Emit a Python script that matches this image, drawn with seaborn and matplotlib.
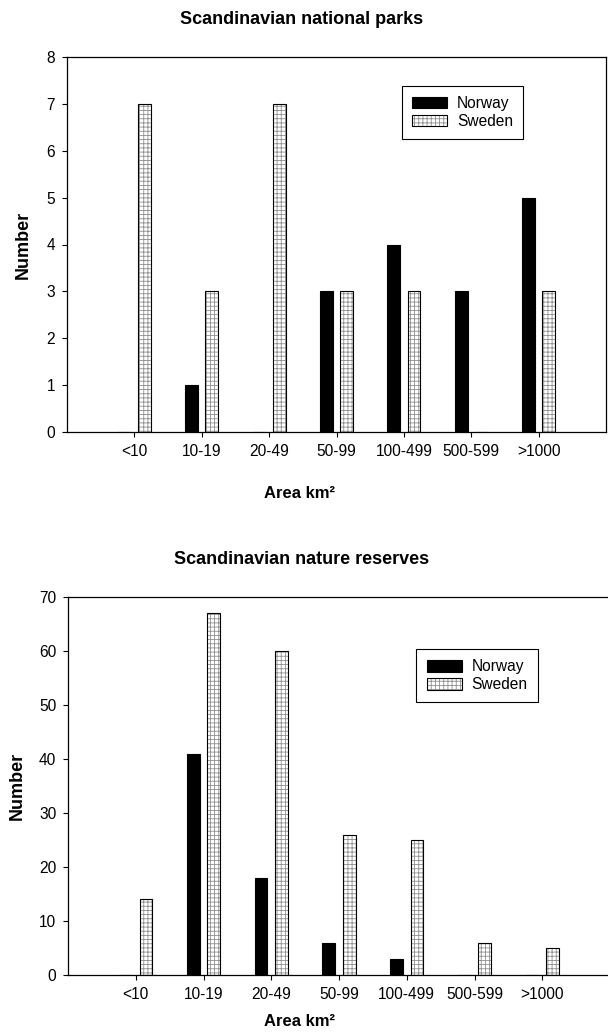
import matplotlib
matplotlib.use("Agg")
import matplotlib.pyplot as plt
import seaborn as sns
import pandas as pd
from matplotlib.colors import to_rgba

categories = ["<10", "10-19", "20-49", "50-99", "100-499", "500-599", ">1000"]
countries = ["Norway", "Sweden"]
parks_norway = [0, 1, 0, 3, 4, 3, 5]
parks_sweden = [7, 3, 7, 3, 3, 0, 3]
reserves_norway = [0, 41, 18, 6, 3, 0, 0]
reserves_sweden = [14, 67, 60, 26, 25, 6, 5]
parks_yticks = list(range(0, 9))
reserves_yticks = list(range(0, 71, 10))

sns.set_style("ticks")
plt.rcParams["font.family"] = ["Liberation Sans", "DejaVu Sans"]
plt.rcParams["text.color"] = "black"
plt.rcParams["axes.labelcolor"] = "black"
plt.rcParams["hatch.linewidth"] = 0.6

def long_df(norway, sweden):
    return pd.DataFrame({
        "Area": categories * 2,
        "Number": list(norway) + list(sweden),
        "Country": [countries[0]] * len(categories) + [countries[1]] * len(categories),
    })

fig = plt.figure(figsize=(6.08, 10.36), dpi=100)
ax1 = fig.add_axes([67/608, 1 - 432/1036, 539/608, 375/1036])
ax2 = fig.add_axes([68/608, 1 - 975/1036, 542/608, 378/1036])

def draw(ax, norway, sweden, yticks, legend_xy, ylabel_x):
    df = long_df(norway, sweden)
    sns.barplot(data=df, x="Area", y="Number", hue="Country", order=categories,
                hue_order=countries, palette=["black", "white"], width=0.6, gap=0.37,
                legend=False, ax=ax, saturation=1, edgecolor="black", linewidth=0.8)
    for p in ax.containers[1].patches:
        p.set_hatch("++++")
        p.set_edgecolor("black")
        p._hatch_color = to_rgba("#8f8f8f")
    ax.set_xlim(-1, 7)
    ax.set_ylim(yticks[0], yticks[-1])
    ax.set_yticks(yticks)
    for s in ax.spines.values():
        s.set_linewidth(0.9)
        s.set_color("black")
    ax.tick_params(axis="both", direction="out", length=3.5, width=0.8,
                   labelsize=11.2, colors="black", pad=5)
    ax.set_xlabel("")
    ax.set_ylabel("Number", fontsize=13, fontweight="bold")
    ax.yaxis.set_label_coords(ylabel_x, 0.5)
    leg = ax.legend(handles=ax.containers, labels=countries, loc="upper right",
                    bbox_to_anchor=legend_xy, fontsize=11.2, frameon=True,
                    fancybox=False, framealpha=1, edgecolor="black",
                    handlelength=2.3, handleheight=0.75, handletextpad=0.6,
                    borderpad=0.65, labelspacing=0.2, borderaxespad=0)
    leg.get_frame().set_linewidth(0.8)

draw(ax1, parks_norway, parks_sweden, parks_yticks, (0.846, 0.923), -0.066)
draw(ax2, reserves_norway, reserves_sweden, reserves_yticks, (0.867, 0.862), -0.078)

fig.text(302/608, 1 - 19/1036, "Scandinavian national parks", ha="center", va="center",
         fontsize=13, fontweight="bold")
fig.text(302/608, 1 - 560/1036, "Scandinavian nature reserves", ha="center", va="center",
         fontsize=13, fontweight="bold")
fig.text(300/608, 1 - 494/1036, "Area km²", ha="center", va="center",
         fontsize=12, fontweight="bold")
fig.text(300/608, 1 - 1021/1036, "Area km²", ha="center", va="center",
         fontsize=12, fontweight="bold")

fig.savefig("out.png", dpi=100)
